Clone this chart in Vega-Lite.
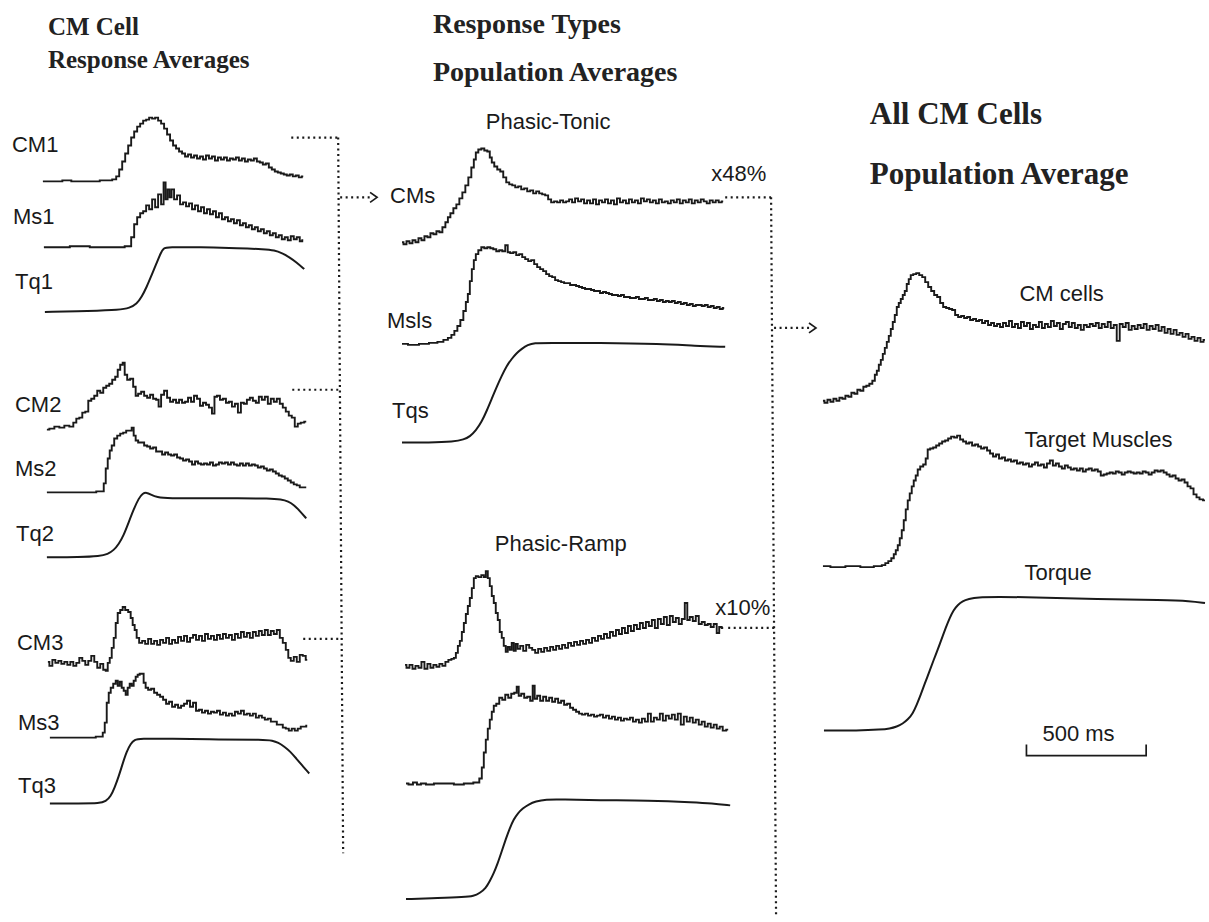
{
  "$schema": "https://vega.github.io/schema/vega-lite/v6.json",
  "autosize": {"type": "fit", "contains": "padding"},
  "width": 1209,
  "height": 922,
  "padding": 0,
  "background": "#ffffff",
  "config": {"view": {"stroke": null}},
  "datasets": {
    "hist": [
      {"s":"CM1","x":43,"y":182},{"s":"CM1","x":55,"y":182},{"s":"CM1","x":70,"y":181},{"s":"CM1","x":73,"y":182},{"s":"CM1","x":98,"y":182},{"s":"CM1","x":102,"y":181},{"s":"CM1","x":110,"y":181},{"s":"CM1","x":115,"y":180},{"s":"CM1","x":118,"y":177},{"s":"CM1","x":121,"y":170},{"s":"CM1","x":124,"y":162},{"s":"CM1","x":127,"y":154},{"s":"CM1","x":130,"y":146},{"s":"CM1","x":133,"y":138},{"s":"CM1","x":136,"y":132},{"s":"CM1","x":139,"y":127},{"s":"CM1","x":142,"y":124},{"s":"CM1","x":145,"y":121},{"s":"CM1","x":148,"y":120},{"s":"CM1","x":151,"y":118},{"s":"CM1","x":154,"y":119},{"s":"CM1","x":157,"y":118},{"s":"CM1","x":160,"y":121},{"s":"CM1","x":163,"y":124},{"s":"CM1","x":166,"y":129},{"s":"CM1","x":169,"y":135},{"s":"CM1","x":172,"y":141},{"s":"CM1","x":175,"y":146},{"s":"CM1","x":178,"y":149},{"s":"CM1","x":181,"y":152},{"s":"CM1","x":184,"y":154},{"s":"CM1","x":187,"y":157},{"s":"CM1","x":190,"y":155},{"s":"CM1","x":193,"y":158},{"s":"CM1","x":196,"y":156},{"s":"CM1","x":199,"y":159},{"s":"CM1","x":202,"y":157},{"s":"CM1","x":205,"y":160},{"s":"CM1","x":208,"y":156},{"s":"CM1","x":211,"y":159},{"s":"CM1","x":214,"y":157},{"s":"CM1","x":217,"y":161},{"s":"CM1","x":220,"y":158},{"s":"CM1","x":223,"y":160},{"s":"CM1","x":226,"y":158},{"s":"CM1","x":229,"y":161},{"s":"CM1","x":232,"y":159},{"s":"CM1","x":235,"y":160},{"s":"CM1","x":238,"y":158},{"s":"CM1","x":241,"y":161},{"s":"CM1","x":244,"y":159},{"s":"CM1","x":247,"y":162},{"s":"CM1","x":250,"y":160},{"s":"CM1","x":253,"y":161},{"s":"CM1","x":256,"y":159},{"s":"CM1","x":259,"y":162},{"s":"CM1","x":262,"y":163},{"s":"CM1","x":265,"y":165},{"s":"CM1","x":268,"y":164},{"s":"CM1","x":271,"y":168},{"s":"CM1","x":274,"y":170},{"s":"CM1","x":277,"y":172},{"s":"CM1","x":280,"y":173},{"s":"CM1","x":283,"y":174},{"s":"CM1","x":286,"y":175},{"s":"CM1","x":289,"y":176},{"s":"CM1","x":292,"y":175},{"s":"CM1","x":295,"y":177},{"s":"CM1","x":298,"y":176},{"s":"CM1","x":301,"y":178},{"s":"CM1","x":304,"y":177},

      {"s":"Ms1","x":44,"y":248},{"s":"Ms1","x":60,"y":248},{"s":"Ms1","x":80,"y":247},{"s":"Ms1","x":100,"y":248},{"s":"Ms1","x":120,"y":248},{"s":"Ms1","x":130,"y":247},{"s":"Ms1","x":133,"y":238},{"s":"Ms1","x":136,"y":225},{"s":"Ms1","x":139,"y":218},{"s":"Ms1","x":142,"y":214},{"s":"Ms1","x":145,"y":212},{"s":"Ms1","x":148,"y":206},{"s":"Ms1","x":151,"y":210},{"s":"Ms1","x":154,"y":200},{"s":"Ms1","x":157,"y":208},{"s":"Ms1","x":160,"y":195},{"s":"Ms1","x":163,"y":205},{"s":"Ms1","x":165,"y":183},{"s":"Ms1","x":167,"y":200},{"s":"Ms1","x":169,"y":190},{"s":"Ms1","x":171,"y":198},{"s":"Ms1","x":173,"y":190},{"s":"Ms1","x":176,"y":200},{"s":"Ms1","x":179,"y":196},{"s":"Ms1","x":182,"y":205},{"s":"Ms1","x":185,"y":203},{"s":"Ms1","x":188,"y":207},{"s":"Ms1","x":191,"y":204},{"s":"Ms1","x":194,"y":210},{"s":"Ms1","x":197,"y":206},{"s":"Ms1","x":200,"y":212},{"s":"Ms1","x":203,"y":208},{"s":"Ms1","x":206,"y":214},{"s":"Ms1","x":209,"y":210},{"s":"Ms1","x":212,"y":215},{"s":"Ms1","x":215,"y":212},{"s":"Ms1","x":218,"y":218},{"s":"Ms1","x":221,"y":214},{"s":"Ms1","x":224,"y":220},{"s":"Ms1","x":227,"y":218},{"s":"Ms1","x":230,"y":222},{"s":"Ms1","x":233,"y":220},{"s":"Ms1","x":236,"y":224},{"s":"Ms1","x":239,"y":221},{"s":"Ms1","x":242,"y":226},{"s":"Ms1","x":245,"y":224},{"s":"Ms1","x":248,"y":228},{"s":"Ms1","x":251,"y":226},{"s":"Ms1","x":254,"y":230},{"s":"Ms1","x":257,"y":228},{"s":"Ms1","x":260,"y":232},{"s":"Ms1","x":263,"y":230},{"s":"Ms1","x":266,"y":234},{"s":"Ms1","x":269,"y":232},{"s":"Ms1","x":272,"y":236},{"s":"Ms1","x":275,"y":234},{"s":"Ms1","x":278,"y":238},{"s":"Ms1","x":281,"y":236},{"s":"Ms1","x":284,"y":240},{"s":"Ms1","x":287,"y":238},{"s":"Ms1","x":290,"y":241},{"s":"Ms1","x":293,"y":237},{"s":"Ms1","x":296,"y":240},{"s":"Ms1","x":299,"y":238},{"s":"Ms1","x":302,"y":242},{"s":"Ms1","x":304,"y":241},

      {"s":"CM2","x":47,"y":431},{"s":"CM2","x":52,"y":430},{"s":"CM2","x":57,"y":428},{"s":"CM2","x":62,"y":429},{"s":"CM2","x":67,"y":427},{"s":"CM2","x":72,"y":428},{"s":"CM2","x":75,"y":424},{"s":"CM2","x":78,"y":420},{"s":"CM2","x":81,"y":419},{"s":"CM2","x":84,"y":414},{"s":"CM2","x":87,"y":413},{"s":"CM2","x":90,"y":402},{"s":"CM2","x":93,"y":400},{"s":"CM2","x":96,"y":397},{"s":"CM2","x":99,"y":392},{"s":"CM2","x":102,"y":394},{"s":"CM2","x":105,"y":389},{"s":"CM2","x":108,"y":387},{"s":"CM2","x":111,"y":385},{"s":"CM2","x":114,"y":381},{"s":"CM2","x":117,"y":378},{"s":"CM2","x":119,"y":371},{"s":"CM2","x":122,"y":366},{"s":"CM2","x":124,"y":364},{"s":"CM2","x":126,"y":376},{"s":"CM2","x":129,"y":381},{"s":"CM2","x":132,"y":380},{"s":"CM2","x":135,"y":388},{"s":"CM2","x":137,"y":397},{"s":"CM2","x":140,"y":395},{"s":"CM2","x":143,"y":393},{"s":"CM2","x":146,"y":397},{"s":"CM2","x":149,"y":399},{"s":"CM2","x":152,"y":396},{"s":"CM2","x":155,"y":400},{"s":"CM2","x":158,"y":401},{"s":"CM2","x":160,"y":408},{"s":"CM2","x":163,"y":396},{"s":"CM2","x":166,"y":392},{"s":"CM2","x":169,"y":399},{"s":"CM2","x":172,"y":403},{"s":"CM2","x":175,"y":401},{"s":"CM2","x":178,"y":404},{"s":"CM2","x":181,"y":401},{"s":"CM2","x":184,"y":404},{"s":"CM2","x":187,"y":403},{"s":"CM2","x":190,"y":399},{"s":"CM2","x":193,"y":403},{"s":"CM2","x":196,"y":397},{"s":"CM2","x":199,"y":400},{"s":"CM2","x":202,"y":407},{"s":"CM2","x":205,"y":404},{"s":"CM2","x":208,"y":406},{"s":"CM2","x":211,"y":409},{"s":"CM2","x":214,"y":415},{"s":"CM2","x":216,"y":398},{"s":"CM2","x":219,"y":397},{"s":"CM2","x":222,"y":401},{"s":"CM2","x":225,"y":400},{"s":"CM2","x":228,"y":404},{"s":"CM2","x":231,"y":403},{"s":"CM2","x":234,"y":408},{"s":"CM2","x":237,"y":405},{"s":"CM2","x":240,"y":414},{"s":"CM2","x":243,"y":404},{"s":"CM2","x":246,"y":405},{"s":"CM2","x":249,"y":401},{"s":"CM2","x":252,"y":399},{"s":"CM2","x":255,"y":402},{"s":"CM2","x":258,"y":404},{"s":"CM2","x":261,"y":398},{"s":"CM2","x":264,"y":401},{"s":"CM2","x":267,"y":398},{"s":"CM2","x":270,"y":405},{"s":"CM2","x":273,"y":400},{"s":"CM2","x":276,"y":403},{"s":"CM2","x":279,"y":400},{"s":"CM2","x":282,"y":405},{"s":"CM2","x":285,"y":409},{"s":"CM2","x":288,"y":413},{"s":"CM2","x":291,"y":417},{"s":"CM2","x":294,"y":419},{"s":"CM2","x":297,"y":428},{"s":"CM2","x":300,"y":425},{"s":"CM2","x":303,"y":424},{"s":"CM2","x":307,"y":423},

      {"s":"Ms2","x":47,"y":494},{"s":"Ms2","x":70,"y":494},{"s":"Ms2","x":90,"y":494},{"s":"Ms2","x":103,"y":493},{"s":"Ms2","x":105,"y":485},{"s":"Ms2","x":107,"y":470},{"s":"Ms2","x":109,"y":460},{"s":"Ms2","x":111,"y":452},{"s":"Ms2","x":113,"y":447},{"s":"Ms2","x":116,"y":440},{"s":"Ms2","x":119,"y":437},{"s":"Ms2","x":122,"y":435},{"s":"Ms2","x":125,"y":434},{"s":"Ms2","x":128,"y":432},{"s":"Ms2","x":131,"y":432},{"s":"Ms2","x":133,"y":429},{"s":"Ms2","x":135,"y":437},{"s":"Ms2","x":137,"y":442},{"s":"Ms2","x":140,"y":444},{"s":"Ms2","x":143,"y":444},{"s":"Ms2","x":146,"y":447},{"s":"Ms2","x":149,"y":448},{"s":"Ms2","x":152,"y":450},{"s":"Ms2","x":155,"y":449},{"s":"Ms2","x":158,"y":453},{"s":"Ms2","x":161,"y":453},{"s":"Ms2","x":164,"y":456},{"s":"Ms2","x":167,"y":454},{"s":"Ms2","x":170,"y":456},{"s":"Ms2","x":173,"y":457},{"s":"Ms2","x":176,"y":456},{"s":"Ms2","x":179,"y":459},{"s":"Ms2","x":182,"y":460},{"s":"Ms2","x":185,"y":462},{"s":"Ms2","x":188,"y":461},{"s":"Ms2","x":191,"y":463},{"s":"Ms2","x":194,"y":466},{"s":"Ms2","x":197,"y":463},{"s":"Ms2","x":200,"y":465},{"s":"Ms2","x":203,"y":466},{"s":"Ms2","x":206,"y":465},{"s":"Ms2","x":209,"y":466},{"s":"Ms2","x":212,"y":464},{"s":"Ms2","x":215,"y":467},{"s":"Ms2","x":218,"y":466},{"s":"Ms2","x":221,"y":464},{"s":"Ms2","x":224,"y":465},{"s":"Ms2","x":227,"y":464},{"s":"Ms2","x":230,"y":466},{"s":"Ms2","x":233,"y":464},{"s":"Ms2","x":236,"y":466},{"s":"Ms2","x":239,"y":467},{"s":"Ms2","x":242,"y":465},{"s":"Ms2","x":245,"y":467},{"s":"Ms2","x":248,"y":465},{"s":"Ms2","x":251,"y":467},{"s":"Ms2","x":254,"y":466},{"s":"Ms2","x":257,"y":467},{"s":"Ms2","x":260,"y":469},{"s":"Ms2","x":263,"y":468},{"s":"Ms2","x":266,"y":470},{"s":"Ms2","x":269,"y":472},{"s":"Ms2","x":272,"y":471},{"s":"Ms2","x":275,"y":473},{"s":"Ms2","x":278,"y":475},{"s":"Ms2","x":281,"y":477},{"s":"Ms2","x":284,"y":478},{"s":"Ms2","x":287,"y":480},{"s":"Ms2","x":290,"y":482},{"s":"Ms2","x":293,"y":484},{"s":"Ms2","x":296,"y":486},{"s":"Ms2","x":299,"y":487},{"s":"Ms2","x":302,"y":489},{"s":"Ms2","x":307,"y":489},

      {"s":"CM3","x":48,"y":664},{"s":"CM3","x":51,"y":668},{"s":"CM3","x":54,"y":662},{"s":"CM3","x":57,"y":665},{"s":"CM3","x":60,"y":663},{"s":"CM3","x":63,"y":666},{"s":"CM3","x":66,"y":664},{"s":"CM3","x":69,"y":667},{"s":"CM3","x":72,"y":664},{"s":"CM3","x":75,"y":668},{"s":"CM3","x":78,"y":665},{"s":"CM3","x":81,"y":660},{"s":"CM3","x":84,"y":663},{"s":"CM3","x":87,"y":667},{"s":"CM3","x":90,"y":663},{"s":"CM3","x":93,"y":658},{"s":"CM3","x":96,"y":664},{"s":"CM3","x":99,"y":670},{"s":"CM3","x":102,"y":666},{"s":"CM3","x":105,"y":672},{"s":"CM3","x":107,"y":673},{"s":"CM3","x":109,"y":665},{"s":"CM3","x":111,"y":660},{"s":"CM3","x":113,"y":650},{"s":"CM3","x":115,"y":640},{"s":"CM3","x":117,"y":625},{"s":"CM3","x":119,"y":615},{"s":"CM3","x":122,"y":612},{"s":"CM3","x":124,"y":609},{"s":"CM3","x":127,"y":612},{"s":"CM3","x":130,"y":614},{"s":"CM3","x":132,"y":620},{"s":"CM3","x":134,"y":627},{"s":"CM3","x":136,"y":632},{"s":"CM3","x":138,"y":640},{"s":"CM3","x":141,"y":645},{"s":"CM3","x":144,"y":643},{"s":"CM3","x":147,"y":646},{"s":"CM3","x":150,"y":641},{"s":"CM3","x":153,"y":646},{"s":"CM3","x":156,"y":643},{"s":"CM3","x":159,"y":647},{"s":"CM3","x":162,"y":642},{"s":"CM3","x":165,"y":645},{"s":"CM3","x":168,"y":640},{"s":"CM3","x":171,"y":646},{"s":"CM3","x":174,"y":642},{"s":"CM3","x":177,"y":645},{"s":"CM3","x":180,"y":639},{"s":"CM3","x":183,"y":643},{"s":"CM3","x":186,"y":638},{"s":"CM3","x":189,"y":644},{"s":"CM3","x":192,"y":640},{"s":"CM3","x":195,"y":637},{"s":"CM3","x":198,"y":642},{"s":"CM3","x":201,"y":638},{"s":"CM3","x":204,"y":643},{"s":"CM3","x":207,"y":636},{"s":"CM3","x":210,"y":641},{"s":"CM3","x":213,"y":638},{"s":"CM3","x":216,"y":642},{"s":"CM3","x":219,"y":637},{"s":"CM3","x":222,"y":641},{"s":"CM3","x":225,"y":636},{"s":"CM3","x":228,"y":640},{"s":"CM3","x":231,"y":637},{"s":"CM3","x":234,"y":642},{"s":"CM3","x":237,"y":636},{"s":"CM3","x":240,"y":640},{"s":"CM3","x":243,"y":634},{"s":"CM3","x":246,"y":639},{"s":"CM3","x":249,"y":635},{"s":"CM3","x":252,"y":640},{"s":"CM3","x":255,"y":634},{"s":"CM3","x":258,"y":638},{"s":"CM3","x":261,"y":633},{"s":"CM3","x":264,"y":637},{"s":"CM3","x":267,"y":632},{"s":"CM3","x":270,"y":637},{"s":"CM3","x":273,"y":633},{"s":"CM3","x":276,"y":636},{"s":"CM3","x":279,"y":632},{"s":"CM3","x":282,"y":640},{"s":"CM3","x":285,"y":645},{"s":"CM3","x":288,"y":652},{"s":"CM3","x":290,"y":660},{"s":"CM3","x":293,"y":663},{"s":"CM3","x":296,"y":659},{"s":"CM3","x":299,"y":664},{"s":"CM3","x":302,"y":657},{"s":"CM3","x":305,"y":658},{"s":"CM3","x":308,"y":662},

      {"s":"Ms3","x":50,"y":740},{"s":"Ms3","x":70,"y":740},{"s":"Ms3","x":90,"y":740},{"s":"Ms3","x":102,"y":739},{"s":"Ms3","x":104,"y":735},{"s":"Ms3","x":106,"y":725},{"s":"Ms3","x":108,"y":705},{"s":"Ms3","x":110,"y":695},{"s":"Ms3","x":112,"y":690},{"s":"Ms3","x":115,"y":686},{"s":"Ms3","x":117,"y":683},{"s":"Ms3","x":119,"y":688},{"s":"Ms3","x":121,"y":684},{"s":"Ms3","x":123,"y":690},{"s":"Ms3","x":125,"y":693},{"s":"Ms3","x":127,"y":697},{"s":"Ms3","x":129,"y":690},{"s":"Ms3","x":131,"y":686},{"s":"Ms3","x":133,"y":688},{"s":"Ms3","x":135,"y":683},{"s":"Ms3","x":137,"y":679},{"s":"Ms3","x":139,"y":677},{"s":"Ms3","x":141,"y":676},{"s":"Ms3","x":143,"y":676},{"s":"Ms3","x":145,"y":685},{"s":"Ms3","x":147,"y":690},{"s":"Ms3","x":150,"y":692},{"s":"Ms3","x":153,"y":691},{"s":"Ms3","x":156,"y":695},{"s":"Ms3","x":159,"y":697},{"s":"Ms3","x":162,"y":699},{"s":"Ms3","x":165,"y":702},{"s":"Ms3","x":168,"y":706},{"s":"Ms3","x":171,"y":704},{"s":"Ms3","x":174,"y":709},{"s":"Ms3","x":177,"y":707},{"s":"Ms3","x":180,"y":710},{"s":"Ms3","x":183,"y":708},{"s":"Ms3","x":186,"y":706},{"s":"Ms3","x":189,"y":703},{"s":"Ms3","x":192,"y":709},{"s":"Ms3","x":195,"y":705},{"s":"Ms3","x":198,"y":713},{"s":"Ms3","x":201,"y":712},{"s":"Ms3","x":204,"y":715},{"s":"Ms3","x":207,"y":713},{"s":"Ms3","x":210,"y":716},{"s":"Ms3","x":213,"y":714},{"s":"Ms3","x":216,"y":715},{"s":"Ms3","x":219,"y":713},{"s":"Ms3","x":222,"y":717},{"s":"Ms3","x":225,"y":715},{"s":"Ms3","x":228,"y":718},{"s":"Ms3","x":231,"y":716},{"s":"Ms3","x":234,"y":718},{"s":"Ms3","x":237,"y":714},{"s":"Ms3","x":240,"y":716},{"s":"Ms3","x":243,"y":713},{"s":"Ms3","x":246,"y":717},{"s":"Ms3","x":249,"y":716},{"s":"Ms3","x":252,"y":718},{"s":"Ms3","x":255,"y":716},{"s":"Ms3","x":258,"y":720},{"s":"Ms3","x":261,"y":718},{"s":"Ms3","x":264,"y":720},{"s":"Ms3","x":267,"y":722},{"s":"Ms3","x":270,"y":721},{"s":"Ms3","x":273,"y":724},{"s":"Ms3","x":276,"y":724},{"s":"Ms3","x":279,"y":727},{"s":"Ms3","x":282,"y":727},{"s":"Ms3","x":285,"y":730},{"s":"Ms3","x":288,"y":731},{"s":"Ms3","x":291,"y":733},{"s":"Ms3","x":294,"y":731},{"s":"Ms3","x":297,"y":733},{"s":"Ms3","x":300,"y":731},{"s":"Ms3","x":303,"y":729},{"s":"Ms3","x":306,"y":729},{"s":"Ms3","x":308,"y":728},

      {"s":"PT_CM","x":403,"y":243},{"s":"PT_CM","x":406,"y":245},{"s":"PT_CM","x":409,"y":242},{"s":"PT_CM","x":412,"y":244},{"s":"PT_CM","x":415,"y":241},{"s":"PT_CM","x":418,"y":243},{"s":"PT_CM","x":421,"y":239},{"s":"PT_CM","x":424,"y":241},{"s":"PT_CM","x":427,"y":237},{"s":"PT_CM","x":430,"y":238},{"s":"PT_CM","x":433,"y":234},{"s":"PT_CM","x":436,"y":235},{"s":"PT_CM","x":439,"y":232},{"s":"PT_CM","x":442,"y":233},{"s":"PT_CM","x":445,"y":228},{"s":"PT_CM","x":448,"y":223},{"s":"PT_CM","x":450,"y":218},{"s":"PT_CM","x":453,"y":214},{"s":"PT_CM","x":456,"y":209},{"s":"PT_CM","x":459,"y":205},{"s":"PT_CM","x":462,"y":199},{"s":"PT_CM","x":465,"y":193},{"s":"PT_CM","x":468,"y":186},{"s":"PT_CM","x":471,"y":178},{"s":"PT_CM","x":474,"y":168},{"s":"PT_CM","x":476,"y":160},{"s":"PT_CM","x":478,"y":153},{"s":"PT_CM","x":481,"y":150},{"s":"PT_CM","x":484,"y":149},{"s":"PT_CM","x":487,"y":151},{"s":"PT_CM","x":490,"y":152},{"s":"PT_CM","x":492,"y":158},{"s":"PT_CM","x":494,"y":163},{"s":"PT_CM","x":497,"y":167},{"s":"PT_CM","x":500,"y":170},{"s":"PT_CM","x":503,"y":172},{"s":"PT_CM","x":506,"y":178},{"s":"PT_CM","x":509,"y":183},{"s":"PT_CM","x":512,"y":185},{"s":"PT_CM","x":515,"y":186},{"s":"PT_CM","x":518,"y":188},{"s":"PT_CM","x":521,"y":187},{"s":"PT_CM","x":524,"y":190},{"s":"PT_CM","x":527,"y":189},{"s":"PT_CM","x":530,"y":192},{"s":"PT_CM","x":533,"y":191},{"s":"PT_CM","x":536,"y":194},{"s":"PT_CM","x":539,"y":192},{"s":"PT_CM","x":542,"y":194},{"s":"PT_CM","x":545,"y":195},{"s":"PT_CM","x":548,"y":196},{"s":"PT_CM","x":551,"y":200},{"s":"PT_CM","x":554,"y":203},{"s":"PT_CM","x":557,"y":202},{"s":"PT_CM","x":560,"y":203},{"s":"PT_CM","x":563,"y":201},{"s":"PT_CM","x":566,"y":203},{"s":"PT_CM","x":569,"y":202},{"s":"PT_CM","x":572,"y":200},{"s":"PT_CM","x":575,"y":203},{"s":"PT_CM","x":578,"y":199},{"s":"PT_CM","x":581,"y":202},{"s":"PT_CM","x":584,"y":200},{"s":"PT_CM","x":587,"y":204},{"s":"PT_CM","x":590,"y":201},{"s":"PT_CM","x":593,"y":204},{"s":"PT_CM","x":596,"y":200},{"s":"PT_CM","x":599,"y":205},{"s":"PT_CM","x":602,"y":201},{"s":"PT_CM","x":605,"y":203},{"s":"PT_CM","x":608,"y":200},{"s":"PT_CM","x":611,"y":204},{"s":"PT_CM","x":614,"y":201},{"s":"PT_CM","x":617,"y":205},{"s":"PT_CM","x":620,"y":199},{"s":"PT_CM","x":623,"y":203},{"s":"PT_CM","x":626,"y":201},{"s":"PT_CM","x":629,"y":204},{"s":"PT_CM","x":632,"y":200},{"s":"PT_CM","x":635,"y":203},{"s":"PT_CM","x":638,"y":201},{"s":"PT_CM","x":641,"y":204},{"s":"PT_CM","x":644,"y":199},{"s":"PT_CM","x":647,"y":202},{"s":"PT_CM","x":650,"y":200},{"s":"PT_CM","x":653,"y":203},{"s":"PT_CM","x":656,"y":201},{"s":"PT_CM","x":659,"y":204},{"s":"PT_CM","x":662,"y":200},{"s":"PT_CM","x":665,"y":203},{"s":"PT_CM","x":668,"y":202},{"s":"PT_CM","x":671,"y":204},{"s":"PT_CM","x":674,"y":201},{"s":"PT_CM","x":677,"y":203},{"s":"PT_CM","x":680,"y":200},{"s":"PT_CM","x":683,"y":204},{"s":"PT_CM","x":686,"y":201},{"s":"PT_CM","x":689,"y":203},{"s":"PT_CM","x":692,"y":200},{"s":"PT_CM","x":695,"y":204},{"s":"PT_CM","x":698,"y":201},{"s":"PT_CM","x":701,"y":203},{"s":"PT_CM","x":704,"y":200},{"s":"PT_CM","x":707,"y":202},{"s":"PT_CM","x":710,"y":204},{"s":"PT_CM","x":713,"y":201},{"s":"PT_CM","x":716,"y":203},{"s":"PT_CM","x":719,"y":201},{"s":"PT_CM","x":722,"y":203},{"s":"PT_CM","x":725,"y":202},

      {"s":"PT_Ms","x":403,"y":345},{"s":"PT_Ms","x":415,"y":346},{"s":"PT_Ms","x":425,"y":345},{"s":"PT_Ms","x":435,"y":344},{"s":"PT_Ms","x":442,"y":343},{"s":"PT_Ms","x":447,"y":341},{"s":"PT_Ms","x":451,"y":339},{"s":"PT_Ms","x":454,"y":336},{"s":"PT_Ms","x":457,"y":332},{"s":"PT_Ms","x":460,"y":327},{"s":"PT_Ms","x":463,"y":321},{"s":"PT_Ms","x":466,"y":312},{"s":"PT_Ms","x":468,"y":303},{"s":"PT_Ms","x":470,"y":295},{"s":"PT_Ms","x":472,"y":282},{"s":"PT_Ms","x":474,"y":270},{"s":"PT_Ms","x":476,"y":261},{"s":"PT_Ms","x":478,"y":255},{"s":"PT_Ms","x":481,"y":251},{"s":"PT_Ms","x":484,"y":248},{"s":"PT_Ms","x":487,"y":249},{"s":"PT_Ms","x":490,"y":248},{"s":"PT_Ms","x":493,"y":249},{"s":"PT_Ms","x":496,"y":250},{"s":"PT_Ms","x":499,"y":252},{"s":"PT_Ms","x":502,"y":251},{"s":"PT_Ms","x":505,"y":252},{"s":"PT_Ms","x":508,"y":246},{"s":"PT_Ms","x":510,"y":253},{"s":"PT_Ms","x":513,"y":254},{"s":"PT_Ms","x":516,"y":253},{"s":"PT_Ms","x":519,"y":256},{"s":"PT_Ms","x":522,"y":255},{"s":"PT_Ms","x":525,"y":258},{"s":"PT_Ms","x":528,"y":260},{"s":"PT_Ms","x":531,"y":262},{"s":"PT_Ms","x":534,"y":261},{"s":"PT_Ms","x":537,"y":265},{"s":"PT_Ms","x":540,"y":268},{"s":"PT_Ms","x":543,"y":270},{"s":"PT_Ms","x":546,"y":272},{"s":"PT_Ms","x":549,"y":275},{"s":"PT_Ms","x":552,"y":277},{"s":"PT_Ms","x":555,"y":278},{"s":"PT_Ms","x":558,"y":281},{"s":"PT_Ms","x":561,"y":282},{"s":"PT_Ms","x":564,"y":283},{"s":"PT_Ms","x":567,"y":284},{"s":"PT_Ms","x":570,"y":284},{"s":"PT_Ms","x":573,"y":286},{"s":"PT_Ms","x":576,"y":286},{"s":"PT_Ms","x":579,"y":287},{"s":"PT_Ms","x":582,"y":288},{"s":"PT_Ms","x":585,"y":289},{"s":"PT_Ms","x":588,"y":290},{"s":"PT_Ms","x":591,"y":290},{"s":"PT_Ms","x":594,"y":291},{"s":"PT_Ms","x":597,"y":292},{"s":"PT_Ms","x":600,"y":292},{"s":"PT_Ms","x":603,"y":294},{"s":"PT_Ms","x":606,"y":293},{"s":"PT_Ms","x":609,"y":294},{"s":"PT_Ms","x":612,"y":295},{"s":"PT_Ms","x":615,"y":296},{"s":"PT_Ms","x":618,"y":296},{"s":"PT_Ms","x":621,"y":297},{"s":"PT_Ms","x":624,"y":296},{"s":"PT_Ms","x":627,"y":298},{"s":"PT_Ms","x":630,"y":298},{"s":"PT_Ms","x":633,"y":299},{"s":"PT_Ms","x":636,"y":299},{"s":"PT_Ms","x":639,"y":298},{"s":"PT_Ms","x":642,"y":300},{"s":"PT_Ms","x":645,"y":300},{"s":"PT_Ms","x":648,"y":299},{"s":"PT_Ms","x":651,"y":301},{"s":"PT_Ms","x":654,"y":301},{"s":"PT_Ms","x":657,"y":300},{"s":"PT_Ms","x":660,"y":302},{"s":"PT_Ms","x":663,"y":301},{"s":"PT_Ms","x":666,"y":303},{"s":"PT_Ms","x":669,"y":302},{"s":"PT_Ms","x":672,"y":303},{"s":"PT_Ms","x":675,"y":302},{"s":"PT_Ms","x":678,"y":304},{"s":"PT_Ms","x":681,"y":303},{"s":"PT_Ms","x":684,"y":305},{"s":"PT_Ms","x":687,"y":304},{"s":"PT_Ms","x":690,"y":306},{"s":"PT_Ms","x":693,"y":305},{"s":"PT_Ms","x":696,"y":307},{"s":"PT_Ms","x":699,"y":306},{"s":"PT_Ms","x":702,"y":306},{"s":"PT_Ms","x":705,"y":307},{"s":"PT_Ms","x":708,"y":306},{"s":"PT_Ms","x":711,"y":308},{"s":"PT_Ms","x":714,"y":307},{"s":"PT_Ms","x":717,"y":309},{"s":"PT_Ms","x":720,"y":308},{"s":"PT_Ms","x":723,"y":310},{"s":"PT_Ms","x":726,"y":309},

      {"s":"PR_CM","x":406,"y":667},{"s":"PR_CM","x":409,"y":670},{"s":"PR_CM","x":412,"y":667},{"s":"PR_CM","x":415,"y":671},{"s":"PR_CM","x":418,"y":668},{"s":"PR_CM","x":421,"y":670},{"s":"PR_CM","x":424,"y":664},{"s":"PR_CM","x":427,"y":671},{"s":"PR_CM","x":430,"y":666},{"s":"PR_CM","x":433,"y":670},{"s":"PR_CM","x":436,"y":667},{"s":"PR_CM","x":439,"y":669},{"s":"PR_CM","x":442,"y":666},{"s":"PR_CM","x":445,"y":668},{"s":"PR_CM","x":448,"y":664},{"s":"PR_CM","x":451,"y":662},{"s":"PR_CM","x":454,"y":661},{"s":"PR_CM","x":456,"y":660},{"s":"PR_CM","x":458,"y":655},{"s":"PR_CM","x":460,"y":648},{"s":"PR_CM","x":462,"y":643},{"s":"PR_CM","x":464,"y":634},{"s":"PR_CM","x":466,"y":625},{"s":"PR_CM","x":468,"y":616},{"s":"PR_CM","x":470,"y":608},{"s":"PR_CM","x":472,"y":600},{"s":"PR_CM","x":474,"y":590},{"s":"PR_CM","x":476,"y":580},{"s":"PR_CM","x":478,"y":578},{"s":"PR_CM","x":481,"y":579},{"s":"PR_CM","x":484,"y":577},{"s":"PR_CM","x":486,"y":579},{"s":"PR_CM","x":488,"y":573},{"s":"PR_CM","x":490,"y":580},{"s":"PR_CM","x":492,"y":588},{"s":"PR_CM","x":494,"y":598},{"s":"PR_CM","x":496,"y":605},{"s":"PR_CM","x":498,"y":615},{"s":"PR_CM","x":500,"y":622},{"s":"PR_CM","x":502,"y":634},{"s":"PR_CM","x":504,"y":640},{"s":"PR_CM","x":506,"y":648},{"s":"PR_CM","x":508,"y":654},{"s":"PR_CM","x":510,"y":649},{"s":"PR_CM","x":512,"y":652},{"s":"PR_CM","x":514,"y":645},{"s":"PR_CM","x":516,"y":653},{"s":"PR_CM","x":518,"y":646},{"s":"PR_CM","x":520,"y":651},{"s":"PR_CM","x":523,"y":648},{"s":"PR_CM","x":526,"y":653},{"s":"PR_CM","x":529,"y":647},{"s":"PR_CM","x":532,"y":650},{"s":"PR_CM","x":535,"y":652},{"s":"PR_CM","x":538,"y":655},{"s":"PR_CM","x":541,"y":651},{"s":"PR_CM","x":544,"y":654},{"s":"PR_CM","x":547,"y":650},{"s":"PR_CM","x":550,"y":653},{"s":"PR_CM","x":553,"y":649},{"s":"PR_CM","x":556,"y":652},{"s":"PR_CM","x":559,"y":648},{"s":"PR_CM","x":562,"y":651},{"s":"PR_CM","x":565,"y":647},{"s":"PR_CM","x":568,"y":650},{"s":"PR_CM","x":571,"y":645},{"s":"PR_CM","x":574,"y":648},{"s":"PR_CM","x":577,"y":644},{"s":"PR_CM","x":580,"y":647},{"s":"PR_CM","x":583,"y":643},{"s":"PR_CM","x":586,"y":646},{"s":"PR_CM","x":589,"y":642},{"s":"PR_CM","x":592,"y":645},{"s":"PR_CM","x":595,"y":640},{"s":"PR_CM","x":598,"y":643},{"s":"PR_CM","x":601,"y":638},{"s":"PR_CM","x":604,"y":641},{"s":"PR_CM","x":607,"y":636},{"s":"PR_CM","x":610,"y":640},{"s":"PR_CM","x":613,"y":634},{"s":"PR_CM","x":616,"y":638},{"s":"PR_CM","x":619,"y":632},{"s":"PR_CM","x":622,"y":636},{"s":"PR_CM","x":625,"y":630},{"s":"PR_CM","x":628,"y":635},{"s":"PR_CM","x":631,"y":628},{"s":"PR_CM","x":634,"y":633},{"s":"PR_CM","x":637,"y":627},{"s":"PR_CM","x":640,"y":631},{"s":"PR_CM","x":643,"y":625},{"s":"PR_CM","x":646,"y":630},{"s":"PR_CM","x":649,"y":624},{"s":"PR_CM","x":652,"y":628},{"s":"PR_CM","x":655,"y":622},{"s":"PR_CM","x":658,"y":630},{"s":"PR_CM","x":661,"y":621},{"s":"PR_CM","x":664,"y":626},{"s":"PR_CM","x":667,"y":619},{"s":"PR_CM","x":670,"y":627},{"s":"PR_CM","x":673,"y":618},{"s":"PR_CM","x":676,"y":624},{"s":"PR_CM","x":679,"y":620},{"s":"PR_CM","x":682,"y":626},{"s":"PR_CM","x":685,"y":621},{"s":"PR_CM","x":688,"y":605},{"s":"PR_CM","x":690,"y":622},{"s":"PR_CM","x":693,"y":619},{"s":"PR_CM","x":696,"y":623},{"s":"PR_CM","x":699,"y":618},{"s":"PR_CM","x":702,"y":626},{"s":"PR_CM","x":705,"y":624},{"s":"PR_CM","x":708,"y":627},{"s":"PR_CM","x":711,"y":626},{"s":"PR_CM","x":714,"y":629},{"s":"PR_CM","x":717,"y":626},{"s":"PR_CM","x":720,"y":635},{"s":"PR_CM","x":722,"y":629},{"s":"PR_CM","x":725,"y":630},

      {"s":"PR_Ms","x":407,"y":786},{"s":"PR_Ms","x":412,"y":787},{"s":"PR_Ms","x":416,"y":785},{"s":"PR_Ms","x":420,"y":787},{"s":"PR_Ms","x":424,"y":786},{"s":"PR_Ms","x":430,"y":787},{"s":"PR_Ms","x":440,"y":786},{"s":"PR_Ms","x":450,"y":786},{"s":"PR_Ms","x":460,"y":787},{"s":"PR_Ms","x":470,"y":786},{"s":"PR_Ms","x":479,"y":785},{"s":"PR_Ms","x":482,"y":781},{"s":"PR_Ms","x":484,"y":770},{"s":"PR_Ms","x":486,"y":755},{"s":"PR_Ms","x":488,"y":742},{"s":"PR_Ms","x":490,"y":731},{"s":"PR_Ms","x":492,"y":722},{"s":"PR_Ms","x":494,"y":714},{"s":"PR_Ms","x":496,"y":708},{"s":"PR_Ms","x":499,"y":706},{"s":"PR_Ms","x":502,"y":700},{"s":"PR_Ms","x":505,"y":702},{"s":"PR_Ms","x":508,"y":697},{"s":"PR_Ms","x":511,"y":700},{"s":"PR_Ms","x":514,"y":696},{"s":"PR_Ms","x":517,"y":695},{"s":"PR_Ms","x":519,"y":689},{"s":"PR_Ms","x":521,"y":698},{"s":"PR_Ms","x":524,"y":696},{"s":"PR_Ms","x":527,"y":700},{"s":"PR_Ms","x":530,"y":699},{"s":"PR_Ms","x":533,"y":703},{"s":"PR_Ms","x":535,"y":688},{"s":"PR_Ms","x":537,"y":701},{"s":"PR_Ms","x":540,"y":698},{"s":"PR_Ms","x":543,"y":703},{"s":"PR_Ms","x":546,"y":699},{"s":"PR_Ms","x":549,"y":703},{"s":"PR_Ms","x":552,"y":700},{"s":"PR_Ms","x":555,"y":704},{"s":"PR_Ms","x":558,"y":701},{"s":"PR_Ms","x":561,"y":705},{"s":"PR_Ms","x":564,"y":703},{"s":"PR_Ms","x":567,"y":707},{"s":"PR_Ms","x":570,"y":706},{"s":"PR_Ms","x":573,"y":710},{"s":"PR_Ms","x":576,"y":712},{"s":"PR_Ms","x":579,"y":714},{"s":"PR_Ms","x":582,"y":716},{"s":"PR_Ms","x":585,"y":717},{"s":"PR_Ms","x":588,"y":716},{"s":"PR_Ms","x":591,"y":718},{"s":"PR_Ms","x":594,"y":717},{"s":"PR_Ms","x":597,"y":719},{"s":"PR_Ms","x":600,"y":718},{"s":"PR_Ms","x":603,"y":717},{"s":"PR_Ms","x":606,"y":720},{"s":"PR_Ms","x":609,"y":718},{"s":"PR_Ms","x":612,"y":721},{"s":"PR_Ms","x":615,"y":719},{"s":"PR_Ms","x":618,"y":722},{"s":"PR_Ms","x":621,"y":720},{"s":"PR_Ms","x":624,"y":723},{"s":"PR_Ms","x":627,"y":721},{"s":"PR_Ms","x":630,"y":722},{"s":"PR_Ms","x":633,"y":720},{"s":"PR_Ms","x":636,"y":724},{"s":"PR_Ms","x":639,"y":722},{"s":"PR_Ms","x":642,"y":725},{"s":"PR_Ms","x":645,"y":721},{"s":"PR_Ms","x":648,"y":724},{"s":"PR_Ms","x":651,"y":716},{"s":"PR_Ms","x":654,"y":724},{"s":"PR_Ms","x":657,"y":720},{"s":"PR_Ms","x":660,"y":722},{"s":"PR_Ms","x":663,"y":716},{"s":"PR_Ms","x":666,"y":723},{"s":"PR_Ms","x":669,"y":718},{"s":"PR_Ms","x":672,"y":721},{"s":"PR_Ms","x":675,"y":717},{"s":"PR_Ms","x":678,"y":722},{"s":"PR_Ms","x":681,"y":716},{"s":"PR_Ms","x":684,"y":727},{"s":"PR_Ms","x":687,"y":719},{"s":"PR_Ms","x":690,"y":724},{"s":"PR_Ms","x":693,"y":720},{"s":"PR_Ms","x":696,"y":725},{"s":"PR_Ms","x":699,"y":722},{"s":"PR_Ms","x":702,"y":727},{"s":"PR_Ms","x":705,"y":724},{"s":"PR_Ms","x":708,"y":729},{"s":"PR_Ms","x":711,"y":726},{"s":"PR_Ms","x":714,"y":730},{"s":"PR_Ms","x":717,"y":727},{"s":"PR_Ms","x":720,"y":731},{"s":"PR_Ms","x":723,"y":729},{"s":"PR_Ms","x":726,"y":733},{"s":"PR_Ms","x":730,"y":732},

      {"s":"All_CM","x":825,"y":402},{"s":"All_CM","x":828,"y":404},{"s":"All_CM","x":831,"y":401},{"s":"All_CM","x":834,"y":403},{"s":"All_CM","x":837,"y":400},{"s":"All_CM","x":840,"y":402},{"s":"All_CM","x":843,"y":399},{"s":"All_CM","x":846,"y":400},{"s":"All_CM","x":849,"y":397},{"s":"All_CM","x":852,"y":398},{"s":"All_CM","x":855,"y":394},{"s":"All_CM","x":858,"y":395},{"s":"All_CM","x":861,"y":391},{"s":"All_CM","x":864,"y":392},{"s":"All_CM","x":867,"y":388},{"s":"All_CM","x":870,"y":387},{"s":"All_CM","x":873,"y":385},{"s":"All_CM","x":876,"y":382},{"s":"All_CM","x":878,"y":376},{"s":"All_CM","x":880,"y":372},{"s":"All_CM","x":882,"y":366},{"s":"All_CM","x":884,"y":361},{"s":"All_CM","x":886,"y":355},{"s":"All_CM","x":888,"y":349},{"s":"All_CM","x":890,"y":343},{"s":"All_CM","x":892,"y":337},{"s":"All_CM","x":894,"y":330},{"s":"All_CM","x":896,"y":323},{"s":"All_CM","x":898,"y":316},{"s":"All_CM","x":900,"y":308},{"s":"All_CM","x":902,"y":304},{"s":"All_CM","x":904,"y":300},{"s":"All_CM","x":906,"y":296},{"s":"All_CM","x":908,"y":292},{"s":"All_CM","x":910,"y":285},{"s":"All_CM","x":912,"y":280},{"s":"All_CM","x":914,"y":276},{"s":"All_CM","x":917,"y":275},{"s":"All_CM","x":920,"y":274},{"s":"All_CM","x":923,"y":276},{"s":"All_CM","x":926,"y":278},{"s":"All_CM","x":929,"y":283},{"s":"All_CM","x":932,"y":288},{"s":"All_CM","x":935,"y":292},{"s":"All_CM","x":938,"y":296},{"s":"All_CM","x":941,"y":298},{"s":"All_CM","x":944,"y":304},{"s":"All_CM","x":947,"y":308},{"s":"All_CM","x":950,"y":309},{"s":"All_CM","x":953,"y":310},{"s":"All_CM","x":956,"y":311},{"s":"All_CM","x":959,"y":316},{"s":"All_CM","x":962,"y":318},{"s":"All_CM","x":965,"y":317},{"s":"All_CM","x":968,"y":319},{"s":"All_CM","x":971,"y":318},{"s":"All_CM","x":974,"y":321},{"s":"All_CM","x":977,"y":320},{"s":"All_CM","x":980,"y":322},{"s":"All_CM","x":983,"y":321},{"s":"All_CM","x":986,"y":324},{"s":"All_CM","x":989,"y":322},{"s":"All_CM","x":992,"y":326},{"s":"All_CM","x":995,"y":324},{"s":"All_CM","x":998,"y":327},{"s":"All_CM","x":1001,"y":325},{"s":"All_CM","x":1004,"y":328},{"s":"All_CM","x":1007,"y":324},{"s":"All_CM","x":1010,"y":327},{"s":"All_CM","x":1013,"y":322},{"s":"All_CM","x":1016,"y":328},{"s":"All_CM","x":1019,"y":325},{"s":"All_CM","x":1022,"y":329},{"s":"All_CM","x":1025,"y":323},{"s":"All_CM","x":1028,"y":327},{"s":"All_CM","x":1031,"y":324},{"s":"All_CM","x":1034,"y":330},{"s":"All_CM","x":1037,"y":326},{"s":"All_CM","x":1040,"y":328},{"s":"All_CM","x":1043,"y":323},{"s":"All_CM","x":1046,"y":329},{"s":"All_CM","x":1049,"y":325},{"s":"All_CM","x":1052,"y":328},{"s":"All_CM","x":1055,"y":322},{"s":"All_CM","x":1058,"y":327},{"s":"All_CM","x":1061,"y":324},{"s":"All_CM","x":1064,"y":330},{"s":"All_CM","x":1067,"y":325},{"s":"All_CM","x":1070,"y":323},{"s":"All_CM","x":1073,"y":328},{"s":"All_CM","x":1076,"y":324},{"s":"All_CM","x":1079,"y":329},{"s":"All_CM","x":1082,"y":326},{"s":"All_CM","x":1085,"y":331},{"s":"All_CM","x":1088,"y":326},{"s":"All_CM","x":1091,"y":328},{"s":"All_CM","x":1094,"y":325},{"s":"All_CM","x":1097,"y":327},{"s":"All_CM","x":1100,"y":324},{"s":"All_CM","x":1103,"y":329},{"s":"All_CM","x":1106,"y":325},{"s":"All_CM","x":1109,"y":328},{"s":"All_CM","x":1112,"y":323},{"s":"All_CM","x":1115,"y":329},{"s":"All_CM","x":1118,"y":326},{"s":"All_CM","x":1121,"y":342},{"s":"All_CM","x":1124,"y":325},{"s":"All_CM","x":1127,"y":328},{"s":"All_CM","x":1130,"y":324},{"s":"All_CM","x":1133,"y":331},{"s":"All_CM","x":1136,"y":327},{"s":"All_CM","x":1139,"y":330},{"s":"All_CM","x":1142,"y":326},{"s":"All_CM","x":1145,"y":329},{"s":"All_CM","x":1148,"y":325},{"s":"All_CM","x":1151,"y":331},{"s":"All_CM","x":1154,"y":327},{"s":"All_CM","x":1157,"y":330},{"s":"All_CM","x":1160,"y":326},{"s":"All_CM","x":1163,"y":332},{"s":"All_CM","x":1166,"y":328},{"s":"All_CM","x":1169,"y":334},{"s":"All_CM","x":1172,"y":330},{"s":"All_CM","x":1175,"y":335},{"s":"All_CM","x":1178,"y":331},{"s":"All_CM","x":1181,"y":336},{"s":"All_CM","x":1184,"y":334},{"s":"All_CM","x":1187,"y":338},{"s":"All_CM","x":1190,"y":335},{"s":"All_CM","x":1193,"y":340},{"s":"All_CM","x":1196,"y":338},{"s":"All_CM","x":1199,"y":342},{"s":"All_CM","x":1202,"y":339},{"s":"All_CM","x":1205,"y":343},{"s":"All_CM","x":1208,"y":341},

      {"s":"TM","x":825,"y":568},{"s":"TM","x":840,"y":569},{"s":"TM","x":855,"y":568},{"s":"TM","x":870,"y":569},{"s":"TM","x":882,"y":568},{"s":"TM","x":886,"y":567},{"s":"TM","x":889,"y":565},{"s":"TM","x":892,"y":563},{"s":"TM","x":895,"y":560},{"s":"TM","x":897,"y":556},{"s":"TM","x":899,"y":552},{"s":"TM","x":901,"y":547},{"s":"TM","x":903,"y":540},{"s":"TM","x":905,"y":532},{"s":"TM","x":907,"y":522},{"s":"TM","x":909,"y":511},{"s":"TM","x":911,"y":502},{"s":"TM","x":913,"y":495},{"s":"TM","x":915,"y":488},{"s":"TM","x":917,"y":482},{"s":"TM","x":919,"y":477},{"s":"TM","x":921,"y":471},{"s":"TM","x":924,"y":468},{"s":"TM","x":927,"y":466},{"s":"TM","x":929,"y":460},{"s":"TM","x":931,"y":451},{"s":"TM","x":934,"y":450},{"s":"TM","x":937,"y":449},{"s":"TM","x":940,"y":447},{"s":"TM","x":943,"y":445},{"s":"TM","x":946,"y":443},{"s":"TM","x":949,"y":442},{"s":"TM","x":952,"y":440},{"s":"TM","x":955,"y":438},{"s":"TM","x":958,"y":439},{"s":"TM","x":961,"y":437},{"s":"TM","x":964,"y":441},{"s":"TM","x":967,"y":443},{"s":"TM","x":970,"y":445},{"s":"TM","x":973,"y":444},{"s":"TM","x":976,"y":447},{"s":"TM","x":979,"y":446},{"s":"TM","x":982,"y":448},{"s":"TM","x":985,"y":450},{"s":"TM","x":988,"y":449},{"s":"TM","x":991,"y":452},{"s":"TM","x":994,"y":455},{"s":"TM","x":997,"y":458},{"s":"TM","x":1000,"y":456},{"s":"TM","x":1003,"y":460},{"s":"TM","x":1006,"y":459},{"s":"TM","x":1009,"y":462},{"s":"TM","x":1012,"y":461},{"s":"TM","x":1015,"y":463},{"s":"TM","x":1018,"y":462},{"s":"TM","x":1021,"y":465},{"s":"TM","x":1024,"y":464},{"s":"TM","x":1027,"y":466},{"s":"TM","x":1030,"y":465},{"s":"TM","x":1033,"y":468},{"s":"TM","x":1036,"y":466},{"s":"TM","x":1039,"y":464},{"s":"TM","x":1042,"y":467},{"s":"TM","x":1045,"y":466},{"s":"TM","x":1048,"y":469},{"s":"TM","x":1051,"y":465},{"s":"TM","x":1054,"y":462},{"s":"TM","x":1057,"y":467},{"s":"TM","x":1060,"y":465},{"s":"TM","x":1063,"y":468},{"s":"TM","x":1066,"y":470},{"s":"TM","x":1069,"y":467},{"s":"TM","x":1072,"y":469},{"s":"TM","x":1075,"y":471},{"s":"TM","x":1078,"y":470},{"s":"TM","x":1081,"y":472},{"s":"TM","x":1084,"y":470},{"s":"TM","x":1087,"y":473},{"s":"TM","x":1090,"y":471},{"s":"TM","x":1093,"y":470},{"s":"TM","x":1096,"y":472},{"s":"TM","x":1099,"y":471},{"s":"TM","x":1102,"y":473},{"s":"TM","x":1105,"y":477},{"s":"TM","x":1108,"y":476},{"s":"TM","x":1111,"y":475},{"s":"TM","x":1114,"y":474},{"s":"TM","x":1117,"y":475},{"s":"TM","x":1120,"y":473},{"s":"TM","x":1123,"y":474},{"s":"TM","x":1126,"y":476},{"s":"TM","x":1129,"y":474},{"s":"TM","x":1132,"y":473},{"s":"TM","x":1135,"y":474},{"s":"TM","x":1138,"y":475},{"s":"TM","x":1141,"y":474},{"s":"TM","x":1144,"y":475},{"s":"TM","x":1147,"y":473},{"s":"TM","x":1150,"y":474},{"s":"TM","x":1153,"y":476},{"s":"TM","x":1156,"y":474},{"s":"TM","x":1159,"y":472},{"s":"TM","x":1162,"y":473},{"s":"TM","x":1165,"y":472},{"s":"TM","x":1168,"y":474},{"s":"TM","x":1171,"y":476},{"s":"TM","x":1174,"y":478},{"s":"TM","x":1177,"y":477},{"s":"TM","x":1180,"y":480},{"s":"TM","x":1183,"y":482},{"s":"TM","x":1186,"y":481},{"s":"TM","x":1189,"y":484},{"s":"TM","x":1192,"y":488},{"s":"TM","x":1195,"y":490},{"s":"TM","x":1198,"y":496},{"s":"TM","x":1201,"y":499},{"s":"TM","x":1204,"y":501},{"s":"TM","x":1208,"y":502}
    ],
    "smooth": [
      {"s":"Tq1","x":45,"y":313},{"s":"Tq1","x":90,"y":312},{"s":"Tq1","x":120,"y":311},{"s":"Tq1","x":130,"y":309},{"s":"Tq1","x":137,"y":305},{"s":"Tq1","x":142,"y":298},{"s":"Tq1","x":147,"y":288},{"s":"Tq1","x":152,"y":276},{"s":"Tq1","x":157,"y":264},{"s":"Tq1","x":161,"y":254},{"s":"Tq1","x":164,"y":249},{"s":"Tq1","x":168,"y":248},{"s":"Tq1","x":200,"y":248},{"s":"Tq1","x":240,"y":249},{"s":"Tq1","x":265,"y":250},{"s":"Tq1","x":275,"y":251},{"s":"Tq1","x":283,"y":254},{"s":"Tq1","x":290,"y":258},{"s":"Tq1","x":297,"y":263},{"s":"Tq1","x":305,"y":270},
      {"s":"Tq2","x":47,"y":559},{"s":"Tq2","x":80,"y":559},{"s":"Tq2","x":100,"y":558},{"s":"Tq2","x":108,"y":556},{"s":"Tq2","x":114,"y":552},{"s":"Tq2","x":119,"y":546},{"s":"Tq2","x":124,"y":537},{"s":"Tq2","x":129,"y":524},{"s":"Tq2","x":134,"y":511},{"s":"Tq2","x":139,"y":500},{"s":"Tq2","x":143,"y":495},{"s":"Tq2","x":147,"y":494},{"s":"Tq2","x":151,"y":496},{"s":"Tq2","x":157,"y":499},{"s":"Tq2","x":170,"y":500},{"s":"Tq2","x":200,"y":500},{"s":"Tq2","x":240,"y":500},{"s":"Tq2","x":270,"y":500},{"s":"Tq2","x":282,"y":501},{"s":"Tq2","x":289,"y":503},{"s":"Tq2","x":295,"y":507},{"s":"Tq2","x":300,"y":512},{"s":"Tq2","x":307,"y":520},
      {"s":"Tq3","x":50,"y":806},{"s":"Tq3","x":80,"y":806},{"s":"Tq3","x":100,"y":806},{"s":"Tq3","x":106,"y":804},{"s":"Tq3","x":111,"y":799},{"s":"Tq3","x":115,"y":790},{"s":"Tq3","x":119,"y":779},{"s":"Tq3","x":123,"y":766},{"s":"Tq3","x":127,"y":754},{"s":"Tq3","x":131,"y":746},{"s":"Tq3","x":135,"y":742},{"s":"Tq3","x":140,"y":741},{"s":"Tq3","x":170,"y":741},{"s":"Tq3","x":220,"y":742},{"s":"Tq3","x":265,"y":742},{"s":"Tq3","x":273,"y":743},{"s":"Tq3","x":279,"y":745},{"s":"Tq3","x":285,"y":749},{"s":"Tq3","x":291,"y":754},{"s":"Tq3","x":297,"y":761},{"s":"Tq3","x":303,"y":768},{"s":"Tq3","x":310,"y":776},
      {"s":"PT_Tq","x":403,"y":444},{"s":"PT_Tq","x":430,"y":444},{"s":"PT_Tq","x":455,"y":443},{"s":"PT_Tq","x":465,"y":441},{"s":"PT_Tq","x":471,"y":438},{"s":"PT_Tq","x":477,"y":432},{"s":"PT_Tq","x":483,"y":423},{"s":"PT_Tq","x":488,"y":412},{"s":"PT_Tq","x":493,"y":400},{"s":"PT_Tq","x":498,"y":388},{"s":"PT_Tq","x":503,"y":377},{"s":"PT_Tq","x":508,"y":367},{"s":"PT_Tq","x":513,"y":360},{"s":"PT_Tq","x":518,"y":354},{"s":"PT_Tq","x":523,"y":350},{"s":"PT_Tq","x":529,"y":346},{"s":"PT_Tq","x":536,"y":344},{"s":"PT_Tq","x":547,"y":344},{"s":"PT_Tq","x":600,"y":344},{"s":"PT_Tq","x":663,"y":345},{"s":"PT_Tq","x":697,"y":347},{"s":"PT_Tq","x":727,"y":348},
      {"s":"PR_Tq","x":407,"y":902},{"s":"PR_Tq","x":440,"y":901},{"s":"PR_Tq","x":465,"y":900},{"s":"PR_Tq","x":475,"y":899},{"s":"PR_Tq","x":481,"y":896},{"s":"PR_Tq","x":487,"y":891},{"s":"PR_Tq","x":491,"y":884},{"s":"PR_Tq","x":495,"y":876},{"s":"PR_Tq","x":499,"y":866},{"s":"PR_Tq","x":503,"y":854},{"s":"PR_Tq","x":507,"y":842},{"s":"PR_Tq","x":511,"y":831},{"s":"PR_Tq","x":515,"y":822},{"s":"PR_Tq","x":519,"y":816},{"s":"PR_Tq","x":524,"y":811},{"s":"PR_Tq","x":530,"y":807},{"s":"PR_Tq","x":537,"y":804},{"s":"PR_Tq","x":547,"y":802},{"s":"PR_Tq","x":563,"y":802},{"s":"PR_Tq","x":600,"y":803},{"s":"PR_Tq","x":650,"y":803},{"s":"PR_Tq","x":697,"y":805},{"s":"PR_Tq","x":713,"y":806},{"s":"PR_Tq","x":732,"y":808},
      {"s":"All_Tq","x":826,"y":733},{"s":"All_Tq","x":860,"y":733},{"s":"All_Tq","x":883,"y":732},{"s":"All_Tq","x":892,"y":731},{"s":"All_Tq","x":899,"y":729},{"s":"All_Tq","x":905,"y":726},{"s":"All_Tq","x":910,"y":722},{"s":"All_Tq","x":915,"y":716},{"s":"All_Tq","x":919,"y":707},{"s":"All_Tq","x":923,"y":697},{"s":"All_Tq","x":927,"y":686},{"s":"All_Tq","x":932,"y":673},{"s":"All_Tq","x":936,"y":662},{"s":"All_Tq","x":940,"y":652},{"s":"All_Tq","x":944,"y":641},{"s":"All_Tq","x":948,"y":630},{"s":"All_Tq","x":952,"y":620},{"s":"All_Tq","x":956,"y":612},{"s":"All_Tq","x":960,"y":607},{"s":"All_Tq","x":965,"y":603},{"s":"All_Tq","x":971,"y":601},{"s":"All_Tq","x":980,"y":599},{"s":"All_Tq","x":1000,"y":599},{"s":"All_Tq","x":1033,"y":599},{"s":"All_Tq","x":1100,"y":601},{"s":"All_Tq","x":1167,"y":602},{"s":"All_Tq","x":1193,"y":603},{"s":"All_Tq","x":1208,"y":605}
    ],
    "dotted": [
      {"s":"d1","o":1,"x":292,"y":138},{"s":"d1","o":2,"x":339,"y":138},
      {"s":"d2","o":1,"x":339,"y":138},{"s":"d2","o":2,"x":344,"y":856},
      {"s":"d3","o":1,"x":293,"y":391},{"s":"d3","o":2,"x":341,"y":391},
      {"s":"d4","o":1,"x":304,"y":641},{"s":"d4","o":2,"x":343,"y":641},
      {"s":"d5","o":1,"x":341,"y":198},{"s":"d5","o":2,"x":374,"y":198},
      {"s":"d6","o":1,"x":727,"y":198},{"s":"d6","o":2,"x":773,"y":198},
      {"s":"d7","o":1,"x":773,"y":198},{"s":"d7","o":2,"x":778,"y":920},
      {"s":"d8","o":1,"x":730,"y":630},{"s":"d8","o":2,"x":777,"y":630},
      {"s":"d9","o":1,"x":776,"y":329},{"s":"d9","o":2,"x":812,"y":329}
    ],
    "solid": [
      {"s":"a1","o":1,"x":371,"y":193},{"s":"a1","o":2,"x":378,"y":198},{"s":"a1","o":3,"x":371,"y":203},
      {"s":"a2","o":1,"x":811,"y":324},{"s":"a2","o":2,"x":818,"y":329},{"s":"a2","o":3,"x":811,"y":334},
      {"s":"bar","o":1,"x":1029,"y":747},{"s":"bar","o":2,"x":1029,"y":758},{"s":"bar","o":3,"x":1149,"y":758},{"s":"bar","o":4,"x":1149,"y":747}
    ],
    "labels": [
      {"g":"h1","t":"CM Cell","x":48,"y":35},
      {"g":"h1","t":"Response Averages","x":48,"y":68},
      {"g":"h2","t":"Response Types","x":434,"y":33},
      {"g":"h2","t":"Population Averages","x":434,"y":81},
      {"g":"h3","t":"All CM Cells","x":872,"y":124},
      {"g":"h3","t":"Population Average","x":872,"y":185},
      {"g":"l","t":"CM1","x":12,"y":152},
      {"g":"l","t":"Ms1","x":13,"y":225},
      {"g":"l","t":"Tq1","x":15,"y":290},
      {"g":"l","t":"CM2","x":15,"y":413},
      {"g":"l","t":"Ms2","x":15,"y":478},
      {"g":"l","t":"Tq2","x":16,"y":543},
      {"g":"l","t":"CM3","x":17,"y":652},
      {"g":"l","t":"Ms3","x":18,"y":732},
      {"g":"l","t":"Tq3","x":18,"y":796},
      {"g":"l","t":"Phasic-Tonic","x":487,"y":129},
      {"g":"l","t":"CMs","x":391,"y":204},
      {"g":"l","t":"x48%","x":713,"y":182},
      {"g":"l","t":"Msls","x":388,"y":329},
      {"g":"l","t":"Tqs","x":393,"y":419},
      {"g":"l","t":"Phasic-Ramp","x":496,"y":553},
      {"g":"l","t":"x10%","x":717,"y":617},
      {"g":"l","t":"CM cells","x":1022,"y":302},
      {"g":"l","t":"Target Muscles","x":1027,"y":448},
      {"g":"l","t":"Torque","x":1027,"y":582},
      {"g":"l","t":"500 ms","x":1045,"y":743}
    ]
  },
  "encoding": {
    "x": {"field": "x", "type": "quantitative", "axis": null, "scale": {"domain": [0, 1209], "nice": false, "zero": false}},
    "y": {"field": "y", "type": "quantitative", "axis": null, "scale": {"domain": [0, 922], "nice": false, "zero": false, "reverse": true}}
  },
  "layer": [
    {
      "data": {"name": "hist"},
      "mark": {"type": "line", "interpolate": "step", "stroke": "#1a1a1a", "strokeWidth": 1.9, "strokeJoin": "miter"},
      "encoding": {"detail": {"field": "s", "type": "nominal"}}
    },
    {
      "data": {"name": "smooth"},
      "mark": {"type": "line", "interpolate": "basis", "stroke": "#1a1a1a", "strokeWidth": 2},
      "encoding": {"detail": {"field": "s", "type": "nominal"}}
    },
    {
      "data": {"name": "dotted"},
      "mark": {"type": "line", "stroke": "#1a1a1a", "strokeWidth": 2.2, "strokeDash": [2, 3.5]},
      "encoding": {"detail": {"field": "s", "type": "nominal"}, "order": {"field": "o", "type": "quantitative"}}
    },
    {
      "data": {"name": "solid"},
      "mark": {"type": "line", "stroke": "#1a1a1a", "strokeWidth": 1.7},
      "encoding": {"detail": {"field": "s", "type": "nominal"}, "order": {"field": "o", "type": "quantitative"}}
    },
    {
      "data": {"name": "labels"},
      "transform": [{"filter": "datum.g === 'h1'"}],
      "mark": {"type": "text", "align": "left", "baseline": "alphabetic", "font": "Liberation Serif", "fontWeight": "bold", "fontSize": 25, "fill": "#222222"},
      "encoding": {"text": {"field": "t"}}
    },
    {
      "data": {"name": "labels"},
      "transform": [{"filter": "datum.g === 'h2'"}],
      "mark": {"type": "text", "align": "left", "baseline": "alphabetic", "font": "Liberation Serif", "fontWeight": "bold", "fontSize": 28, "fill": "#222222"},
      "encoding": {"text": {"field": "t"}}
    },
    {
      "data": {"name": "labels"},
      "transform": [{"filter": "datum.g === 'h3'"}],
      "mark": {"type": "text", "align": "left", "baseline": "alphabetic", "font": "Liberation Serif", "fontWeight": "bold", "fontSize": 31, "fill": "#222222"},
      "encoding": {"text": {"field": "t"}}
    },
    {
      "data": {"name": "labels"},
      "transform": [{"filter": "datum.g === 'l'"}],
      "mark": {"type": "text", "align": "left", "baseline": "alphabetic", "font": "Liberation Sans", "fontSize": 22, "fill": "#1a1a1a"},
      "encoding": {"text": {"field": "t"}}
    }
  ]
}
